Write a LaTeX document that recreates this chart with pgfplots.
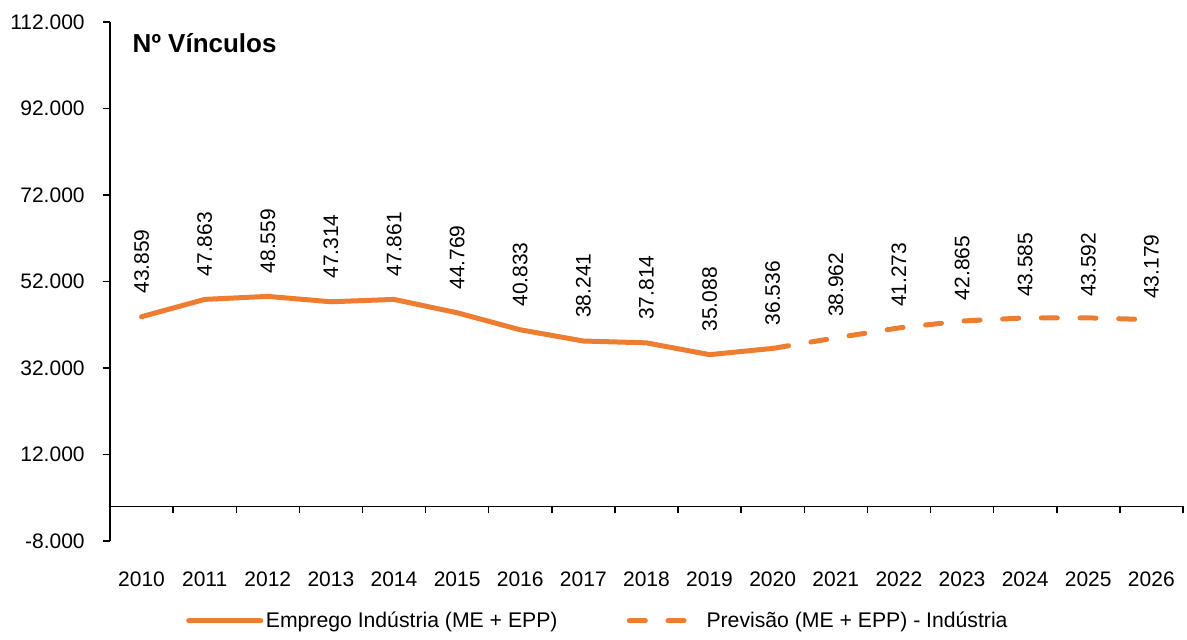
\documentclass[border=0pt]{standalone}
\usepackage{fontspec}
\setmainfont{Liberation Sans}
\usepackage{pgfplots}
\usepackage{pgfplotstable}
\pgfplotsset{compat=1.18}
\definecolor{laranja}{HTML}{ED7D31}

\pgfplotstableread{
ano vinculos
2010 43859
2011 47863
2012 48559
2013 47314
2014 47861
2015 44769
2016 40833
2017 38241
2018 37814
2019 35088
2020 36536
}\realizado

\pgfplotstableread{
ano vinculos
2020 36536
2021 38962
2022 41273
2023 42865
2024 43585
2025 43592
2026 43179
}\previsao

\pgfplotstableread{
ano vinculos
2021 38962
2022 41273
2023 42865
2024 43585
2025 43592
2026 43179
}\rotulosprev

\begin{document}
\begin{tikzpicture}
\begin{axis}[
  scale only axis, width=804.75pt, height=389.25pt,
  xmin=2009.5, xmax=2026.5, ymin=-8000, ymax=112000,
  axis y line*=left, axis x line*=middle,
  axis line style={line width=1.1pt, black},
  scaled y ticks=false,
  ytick={-8000,12000,32000,52000,72000,92000,112000},
  yticklabels={-8.000,12.000,32.000,52.000,72.000,92.000,112.000},
  xtick={2010,...,2026},
  xticklabels={2010,2011,2012,2013,2014,2015,2016,2017,2018,2019,2020,2021,2022,2023,2024,2025,2026},
  minor xtick={2009.5,2010.5,...,2026.5},
  tick align=outside,
  major tick length=5.5pt, minor tick length=5.25pt,
  major x tick style={draw=none},
  minor x tick style={line width=1.1pt, black},
  y tick style={line width=1.1pt, black},
  ticklabel style={font=\fontsize{15.75}{18}\selectfont},
  xticklabel style={yshift=-40pt},
  yticklabel style={xshift=-10pt},
  clip=false,
  legend style={draw=none, fill=none, legend columns=2,
    at={(0.455,-0.154)}, anchor=center,
    font=\fontsize{15.9}{18}\selectfont,
    /tikz/every even column/.append style={column sep=50pt}},
  legend image code/.code={\draw[#1] (0pt,0pt) -- (54pt,0pt);},
  nodes near coords={\pgfmathprintnumber{\pgfplotspointmeta}},
  every node near coord/.style={rotate=90, anchor=west, inner xsep=15.5pt,
    text=black, font=\fontsize{15.75}{18}\selectfont,
    /pgf/number format/.cd, fixed, precision=0, 1000 sep={.}, assume math mode=true},
]
\addplot[laranja, line width=3.75pt, line cap=round, line join=round,
  nodes near coords] table[x=ano, y=vinculos] {\realizado};
\addlegendentry{Emprego Indústria (ME + EPP)}
\addplot[laranja, line width=3.75pt, line cap=round, dash pattern=on 12pt off 17pt,
  nodes near coords={}] table[x=ano, y=vinculos] {\previsao};
\addlegendentry{Previsão (ME + EPP) - Indústria}
\addplot[draw=none, forget plot, nodes near coords] table[x=ano, y=vinculos] {\rotulosprev};
\node[anchor=base west, font=\fontsize{19.5}{23}\selectfont\bfseries]
  at (rel axis cs:0.0168,0.942) {Nº Vínculos};
\end{axis}
\pgfresetboundingbox
\path[use as bounding box] (-82.5pt,-73.5pt) rectangle (807.75pt,405.75pt);
\end{tikzpicture}
\end{document}
